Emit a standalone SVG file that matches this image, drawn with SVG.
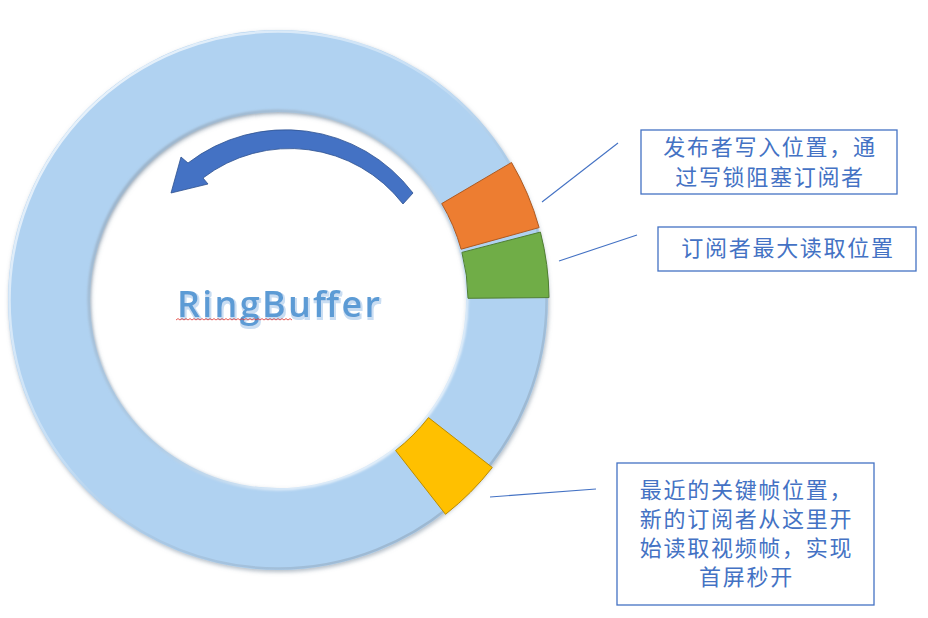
<svg xmlns="http://www.w3.org/2000/svg" width="928" height="618" viewBox="0 0 928 618">
  <style>
    .lbl { font-family: "Noto Sans CJK SC", "Noto Sans", sans-serif; font-size: 22px; fill: #4472C4; letter-spacing: 1.7px; text-anchor: middle; }
    .box { fill: #FFFFFF; stroke: #4472C4; stroke-width: 1.3; }
    .conn { stroke: #4472C4; stroke-width: 1.1; fill: none; }
  </style>
  <defs>
    <filter id="ringShadow" x="-10%" y="-10%" width="120%" height="120%">
      <feDropShadow dx="1" dy="2" stdDeviation="2" flood-color="#6F8396" flood-opacity="0.55"/>
    </filter>
    <filter id="innerBlur" x="-10%" y="-10%" width="120%" height="120%">
      <feGaussianBlur stdDeviation="0.8"/>
    </filter>
    <filter id="titleFx" x="-10%" y="-20%" width="120%" height="150%">
      <feMorphology in="SourceAlpha" operator="dilate" radius="1" result="d"/>
      <feOffset in="d" dx="1" dy="1.5" result="o"/>
      <feFlood flood-color="#C9DDF2"/>
      <feComposite in2="o" operator="in" result="s"/>
      <feMerge><feMergeNode in="s"/><feMergeNode in="SourceGraphic"/></feMerge>
    </filter>
    <linearGradient id="outerEdge" x1="0" y1="0" x2="1" y2="1">
      <stop offset="0" stop-color="#FFFFFF" stop-opacity="0.9"/>
      <stop offset="0.45" stop-color="#FFFFFF" stop-opacity="0.25"/>
      <stop offset="0.6" stop-color="#8FA5BA" stop-opacity="0.2"/>
      <stop offset="1" stop-color="#8FA5BA" stop-opacity="0.8"/>
    </linearGradient>
    <linearGradient id="innerEdge" x1="0" y1="0" x2="1" y2="1">
      <stop offset="0" stop-color="#8A9DB0" stop-opacity="0.9"/>
      <stop offset="0.5" stop-color="#A9BCCD" stop-opacity="0.4"/>
      <stop offset="0.75" stop-color="#FFFFFF" stop-opacity="0.6"/>
      <stop offset="1" stop-color="#FFFFFF" stop-opacity="0.95"/>
    </linearGradient>
  </defs>

  <g id="ring">
    <path d="M8,300 A270,270 0 1 0 548,300 A270,270 0 1 0 8,300 Z M90,300 A188,188 0 1 1 466,300 A188,188 0 1 1 90,300 Z" fill="#B0D2F1" fill-rule="evenodd" filter="url(#ringShadow)"/>
    <circle cx="278" cy="300" r="268.5" fill="none" stroke="url(#outerEdge)" stroke-width="2.5"/>
    <circle cx="278" cy="300" r="189" fill="none" stroke="url(#innerEdge)" stroke-width="3" filter="url(#innerBlur)"/>
  </g>

  <g id="seg-publisher">
    <path d="M539.1,227.6 A271,271 0 0 0 511.5,162.5 L441.7,203.6 A190,190 0 0 1 461.1,249.2 Z" fill="#ED7D31" stroke="#AE5A21" stroke-width="1"/>
  </g>
  <g id="seg-subscriber">
    <path d="M549,297.6 A271,271 0 0 0 540.4,232.1 L461.9,252.4 A190,190 0 0 1 468,298.3 Z" fill="#70AD47" stroke="#507E32" stroke-width="1"/>
  </g>
  <g id="seg-keyframe">
    <path d="M492.3,467.5 A272,272 0 0 1 445.5,514.3 L395.6,450.5 A191,191 0 0 0 428.5,417.6 Z" fill="#FFC000" stroke="#BC8C00" stroke-width="1"/>
  </g>

  <g id="arrow">
    <path d="M413,193 A160,160 0 0 0 188,163 L181,157 L171,193 L208,184 L203,178 A143,143 0 0 1 403,204 Z" fill="#4472C4" stroke="#2F528F" stroke-width="0.8"/>
  </g>

  <g id="title">
    <text x="177" y="316.5" textLength="203" lengthAdjust="spacing" font-family="'Open Sans', 'Noto Sans', sans-serif" font-size="36" font-weight="600" fill="#5B9BD5" filter="url(#titleFx)">RingBuffer</text>
    <path d="M176,320 l2,-1.4 2,1.4 2,-1.4 2,1.4 2,-1.4 2,1.4 2,-1.4 2,1.4 2,-1.4 2,1.4 2,-1.4 2,1.4 2,-1.4 2,1.4 2,-1.4 2,1.4 2,-1.4 2,1.4 2,-1.4 2,1.4 2,-1.4 2,1.4 2,-1.4 2,1.4 2,-1.4 2,1.4 2,-1.4 2,1.4 2,-1.4 2,1.4 2,-1.4 2,1.4 2,-1.4 2,1.4 2,-1.4 2,1.4 2,-1.4 2,1.4 2,-1.4 2,1.4 2,-1.4 2,1.4 2,-1.4 2,1.4 2,-1.4 2,1.4 2,-1.4 2,1.4 2,-1.4 2,1.4 2,-1.4 2,1.4 2,-1.4 2,1.4 2,-1.4 2,1.4 2,-1.4 2,1.4" fill="none" stroke="#E0302A" stroke-width="0.8"/>
  </g>

  <g id="connectors">
    <line class="conn" x1="542" y1="202" x2="618" y2="143"/>
    <line class="conn" x1="559" y1="261" x2="637" y2="235"/>
    <line class="conn" x1="490" y1="497" x2="596" y2="489"/>
  </g>

  <g id="box-publisher">
    <rect class="box" x="641" y="130" width="256" height="64"/>
    <text class="lbl" x="770" y="154.5">发布者写入位置，通</text>
    <text class="lbl" x="770" y="184.5">过写锁阻塞订阅者</text>
  </g>
  <g id="box-subscriber">
    <rect class="box" x="658" y="227" width="258" height="44"/>
    <text class="lbl" x="788" y="256">订阅者最大读取位置</text>
  </g>
  <g id="box-keyframe">
    <rect class="box" x="617" y="463" width="257" height="142"/>
    <text class="lbl" x="746.5" y="497.5">最近的关键帧位置，</text>
    <text class="lbl" x="746.5" y="526.5">新的订阅者从这里开</text>
    <text class="lbl" x="746.5" y="555.5">始读取视频帧，实现</text>
    <text class="lbl" x="746.5" y="584.5">首屏秒开</text>
  </g>
</svg>
